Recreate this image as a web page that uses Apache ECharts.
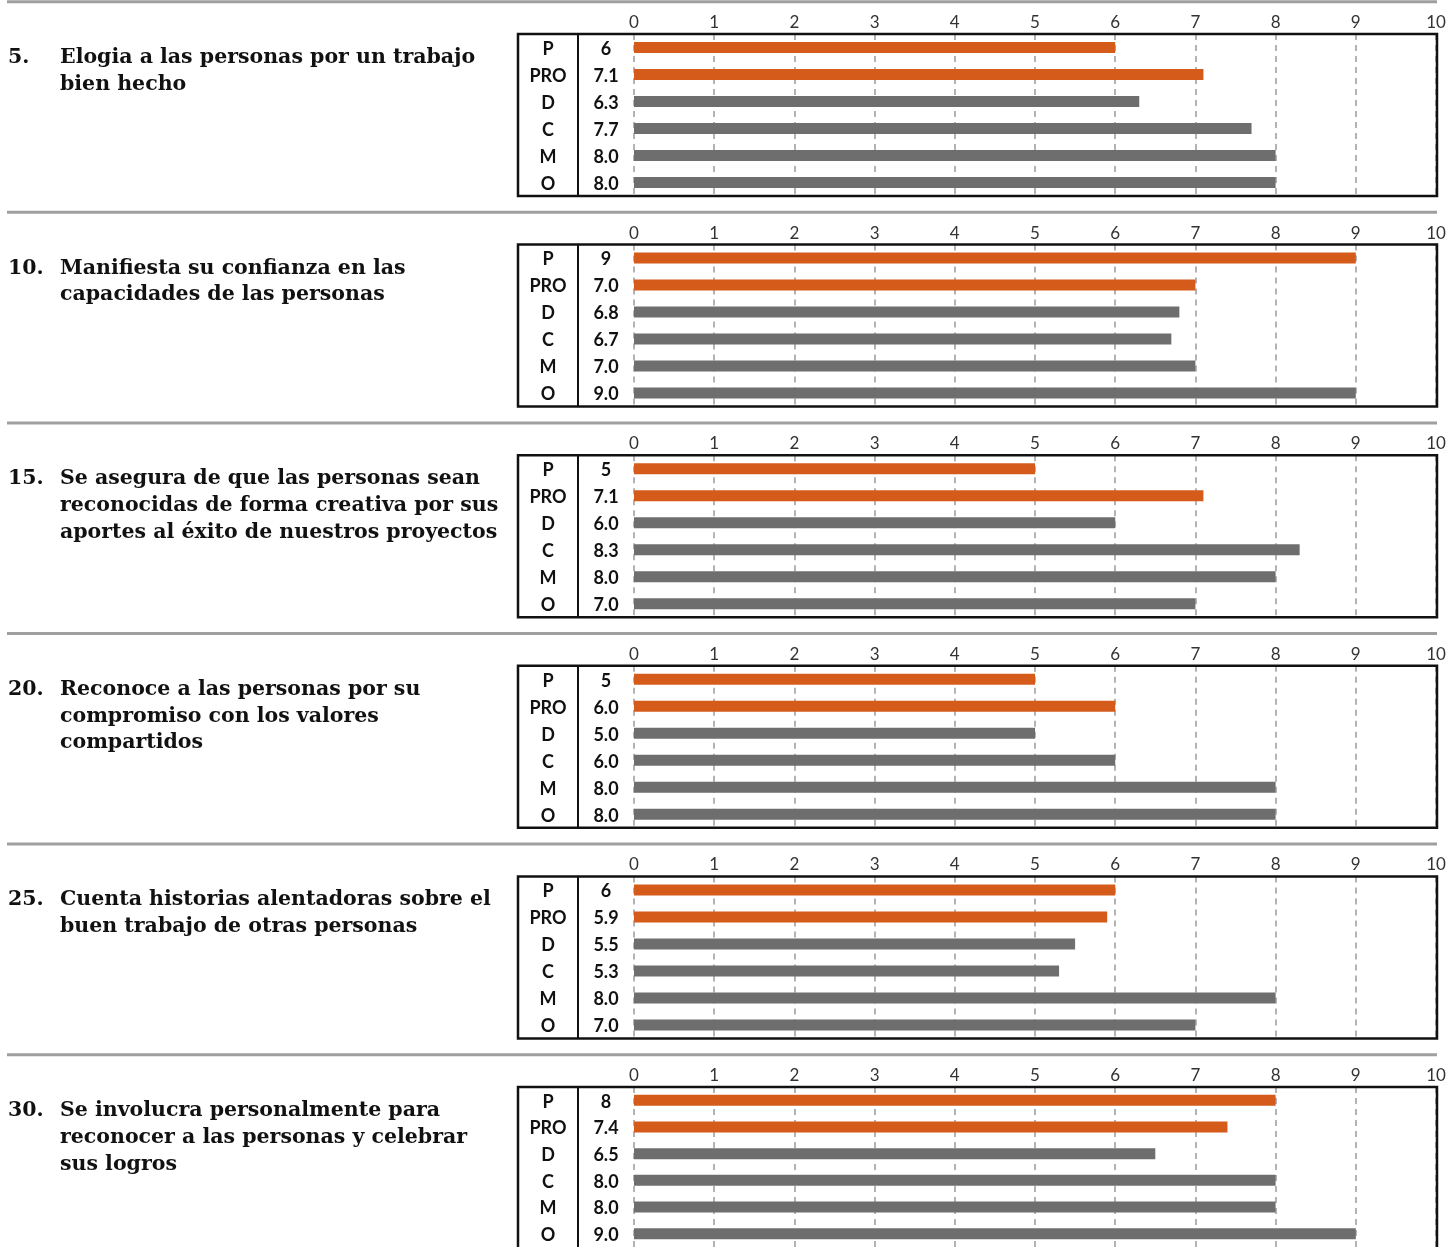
<!DOCTYPE html>
<html><head><meta charset="utf-8">
<script src="https://cdn.jsdelivr.net/npm/echarts@6/dist/echarts.min.js"></script>
<style>html,body{margin:0;padding:0;background:#fff}#c{width:1455px;height:1247px}</style>
</head><body><div id="c"></div>
<script>
const categories = ['P', 'PRO', 'D', 'C', 'M', 'O'];
const questionNumbers = ['5.', '10.', '15.', '20.', '25.', '30.'];
const questionTexts = [
  'Elogia a las personas por un trabajo\nbien hecho',
  'Manifiesta su confianza en las\ncapacidades de las personas',
  'Se asegura de que las personas sean\nreconocidas de forma creativa por sus\naportes al éxito de nuestros proyectos',
  'Reconoce a las personas por su\ncompromiso con los valores\ncompartidos',
  'Cuenta historias alentadoras sobre el\nbuen trabajo de otras personas',
  'Se involucra personalmente para\nreconocer a las personas y celebrar\nsus logros'
];
const values5  = [6, 7.1, 6.3, 7.7, 8.0, 8.0];
const values10 = [9, 7.0, 6.8, 6.7, 7.0, 9.0];
const values15 = [5, 7.1, 6.0, 8.3, 8.0, 7.0];
const values20 = [5, 6.0, 5.0, 6.0, 8.0, 8.0];
const values25 = [6, 5.9, 5.5, 5.3, 8.0, 7.0];
const values30 = [8, 7.4, 6.5, 8.0, 8.0, 9.0];
const panelValues = [values5, values10, values15, values20, values25, values30];
const axisMin = 0, axisMax = 10, axisStep = 1;

const ORANGE = '#D55B1B', GREY = '#6E6E6E';
const boxLeft = 518, divX = 578, plotLeft = 634, plotRight = 1436;
const panelStep = 210.6, sepOffset = 1.7, boxOffset = 32.3, boxH = 162;

const chart = echarts.init(document.getElementById('c'), null, {renderer: 'canvas'});
const grid = [], xAxis = [], yAxis = [], series = [], title = [], graphic = [];
const titleStyle = {fontFamily: 'DejaVu Serif', fontWeight: 'bold', fontSize: 20.5, lineHeight: 26.8, color: '#111'};
const rowLabel = {fontWeight: 'bold', fontSize: 18, fontFamily: 'Lato', color: '#111'};

panelValues.forEach((vals, k) => {
  const sep = sepOffset + panelStep * k;
  const gTop = sep + boxOffset;
  grid.push({left: plotLeft, width: plotRight - plotLeft, top: gTop, height: boxH, containLabel: false});
  xAxis.push({
    gridIndex: k, type: 'value', position: 'top', min: axisMin, max: axisMax, interval: axisStep,
    axisLine: {show: false}, axisTick: {show: false},
    axisLabel: {margin: 3, fontSize: 17, color: '#333', fontFamily: 'Lato'},
    splitLine: {show: true, lineStyle: {type: [6, 5], color: '#9a9a9a', width: 1.5}}
  });
  yAxis.push({
    gridIndex: k, type: 'category', data: categories, inverse: true,
    axisLine: {show: false}, axisTick: {show: false}, splitLine: {show: false},
    axisLabel: {
      margin: 0,
      formatter: (v, i) => '{a|' + v + '}{b|' + (i === 0 ? String(vals[i]) : vals[i].toFixed(1)) + '}',
      rich: {
        a: Object.assign({width: divX - boxLeft, align: 'center', padding: [3, 0, 0, 0]}, rowLabel),
        b: Object.assign({width: plotLeft - divX, align: 'center', padding: [3, 0, 0, 0]}, rowLabel)
      }
    }
  });
  series.push({
    type: 'bar', xAxisIndex: k, yAxisIndex: k, data: vals, barWidth: 11,
    itemStyle: {color: p => p.dataIndex < 2 ? ORANGE : GREY},
    silent: true, animation: false
  });
  title.push({text: questionNumbers[k], left: 8, top: sep + 42.5, textStyle: titleStyle, padding: 0});
  title.push({text: questionTexts[k], left: 60, top: sep + 42.5, textStyle: titleStyle, padding: 0});
  graphic.push({type: 'line', silent: true, z: 10,
    shape: {x1: 7, y1: sep, x2: 1437, y2: sep}, style: {stroke: '#9f9f9f', lineWidth: 3}});
  graphic.push({type: 'rect', silent: true, z: 10,
    shape: {x: boxLeft, y: gTop, width: plotRight + 1 - boxLeft, height: boxH},
    style: {fill: 'none', stroke: '#111', lineWidth: 2.5}});
  graphic.push({type: 'line', silent: true, z: 10,
    shape: {x1: divX, y1: gTop, x2: divX, y2: gTop + boxH}, style: {stroke: '#111', lineWidth: 2}});
});

chart.setOption({animation: false, backgroundColor: '#fff', grid, xAxis, yAxis, series, title, graphic});
</script></body></html>
